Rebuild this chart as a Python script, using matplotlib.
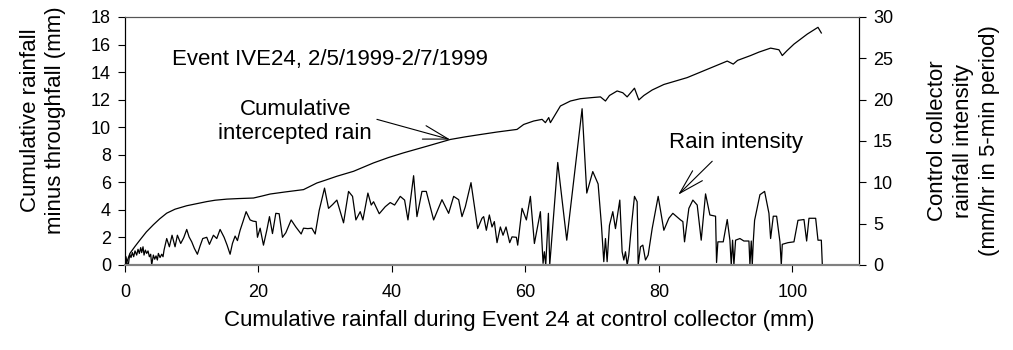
import numpy as np
import matplotlib
matplotlib.use("Agg")
import matplotlib.pyplot as plt

plt.rcParams['font.family'] = ['Liberation Sans', 'DejaVu Sans']

# cumulative intercepted rain (left axis, mm) vs cumulative rainfall (mm)
cum_x = [0, 0.15, 0.75, 1.5, 2.25, 3.2, 4.25, 5.2, 6.25, 7.5, 9.25, 11.25, 12.25, 13.5,
         15.25, 17.0, 19.25, 20.5, 21.75, 24.0, 26.75, 28.75, 30.0, 31.75, 34.25, 37.25,
         39.5, 41.75, 45.25, 48.75, 51.0, 53.0, 55.75, 58.75, 59.75, 61.25, 62.5, 63.0,
         63.5, 63.75, 65.25, 66.75, 68.25, 70.0, 71.25, 72.0, 72.6, 73.75, 74.6, 75.25,
         76.35, 77.0, 77.75, 79.0, 80.75, 82.5, 84.25, 86.0, 87.75, 90.25, 91.15, 91.8,
         93.75, 95.0, 96.75, 98.0, 98.5, 99.2, 100.25, 102.25, 103.85, 104.35]
cum_y = [0, 0.05, 0.85, 1.35, 1.82, 2.4, 2.92, 3.35, 3.76, 4.05, 4.3, 4.5, 4.6, 4.7,
         4.78, 4.82, 4.86, 5.0, 5.15, 5.3, 5.47, 5.95, 6.15, 6.44, 6.8, 7.41,
         7.8, 8.14, 8.62, 9.11, 9.3, 9.45, 9.65, 9.84, 10.2, 10.45, 10.57, 10.33,
         10.7, 10.33, 11.54, 11.9, 12.07, 12.15, 12.2, 11.9, 12.3, 12.63, 12.5, 12.2,
         12.83, 11.98, 12.3, 12.7, 13.1, 13.35, 13.6, 13.95, 14.3, 14.8, 14.58, 14.85,
         15.2, 15.45, 15.74, 15.62, 15.2, 15.55, 16.03, 16.76, 17.25, 16.84]

# rain intensity (right axis, mm/hr in 5-min period)
int_x = [0.0, 0.15, 0.3, 0.5, 0.7, 0.9, 1.1, 1.3, 1.5, 1.75, 1.95, 2.15, 2.35, 2.5, 2.7,
         2.85, 3.05, 3.25, 3.45, 3.65, 3.85, 4.0, 4.25, 4.45, 4.65, 4.85, 5.0, 5.25, 5.5,
         5.7, 5.85, 6.25, 6.65, 7.05, 7.5, 7.85, 8.35, 8.8, 9.25, 9.6, 10.0, 10.4, 10.85,
         11.25, 11.65, 12.25, 12.65, 13.25, 13.75, 14.25, 14.85, 15.3, 15.75, 16.1, 16.5,
         16.85, 17.25, 17.7, 18.15, 18.75, 19.2, 19.65, 19.85, 20.25, 20.75, 21.25, 21.65,
         22.1, 22.6, 23.1, 23.6, 24.1, 24.9, 25.6, 26.4, 26.75, 27.4, 28.0, 28.5, 29.1,
         29.9, 30.5, 31.1, 31.75, 32.75, 33.5, 34.1, 34.6, 35.25, 35.65, 36.4, 36.9, 37.25,
         38.1, 39.0, 39.75, 40.4, 41.25, 41.9, 42.4, 43.25, 43.75, 44.5, 45.15, 46.25,
         47.5, 48.5, 49.25, 50.0, 50.5, 51.0, 51.85, 52.85, 53.5, 53.75, 54.15, 54.6, 55.0,
         55.35, 55.75, 56.25, 56.65, 57.1, 57.65, 58.0, 58.65, 58.85, 59.5, 60.15, 60.75,
         61.35, 62.25, 62.65, 62.85, 63.05, 63.45, 63.65, 64.85, 66.2, 68.5, 69.2, 70.1,
         70.9, 71.4, 71.75, 72.0, 72.25, 72.6, 73.1, 73.5, 74.15, 74.5, 74.75, 75.0, 75.25,
         75.5, 75.9, 76.35, 76.75, 76.9, 77.25, 77.6, 78.0, 78.4, 79.0, 79.9, 80.75, 81.5,
         82.1, 83.25, 83.6, 83.85, 84.5, 85.1, 85.75, 86.35, 87.0, 87.65, 88.5, 88.65,
         88.85, 89.65, 90.25, 90.65, 90.85, 91.05, 91.25, 91.5, 92.15, 92.75, 93.5, 93.65,
         93.85, 94.0, 94.15, 94.35, 95.15, 95.85, 96.5, 96.75, 97.15, 97.65, 98.15, 98.35,
         98.5, 99.35, 100.25, 100.85, 101.75, 102.15, 102.5, 103.5, 103.85, 104.35, 104.5]
int_y = [0.0, 1.0, 0.2, 0.0, 1.3, 0.9, 1.5, 1.0, 1.7, 1.2, 1.9, 1.4, 2.1, 1.5, 2.2,
         1.2, 1.8, 1.4, 1.7, 1.0, 1.3, 0.0, 1.2, 0.7, 1.1, 0.6, 1.4, 0.9, 1.3,
         1.0, 1.8, 3.2, 2.2, 3.6, 2.2, 3.6, 2.6, 3.3, 4.3, 3.4, 2.8, 2.0, 1.3,
         2.3, 3.2, 3.35, 2.5, 3.6, 3.2, 4.3, 3.35, 2.4, 1.3, 2.6, 3.5,
         2.95, 4.2, 5.3, 6.45, 5.45, 5.3, 5.25, 3.35, 4.45, 2.4, 4.2, 5.85,
         3.8, 6.25, 6.2, 3.35, 3.9, 5.45, 4.6, 3.75, 4.45, 4.4, 4.45, 3.75, 6.6,
         9.3, 6.85, 7.3, 7.85, 5.1, 8.9, 8.3, 5.45, 6.45, 5.45, 8.7, 7.25, 7.65,
         6.2, 7.05, 7.55, 7.25, 8.3, 7.85, 5.45, 10.8, 5.85, 8.9, 8.9, 5.45,
         7.9, 6.25, 8.3, 7.9, 5.85, 7.05, 9.96, 4.4, 5.65, 5.85, 4.2, 6.05, 4.6,
         5.25, 2.7, 4.6, 3.6, 4.6, 2.7, 3.4, 3.35, 2.4, 6.85, 5.45, 8.3,
         2.6, 6.45, 0.2, 1.6, 0.0, 6.25, 0.0, 12.4, 3.0, 18.9, 8.7, 11.3,
         9.8, 4.8, 0.4, 3.2, 0.4, 4.8, 6.45, 4.4, 7.85, 1.6, 0.6, 1.6, 0.0,
         1.2, 4.8, 8.3, 7.65, 0.0, 2.2, 2.4, 0.6, 1.2, 4.4, 8.3, 4.2, 5.65,
         6.25, 5.45, 5.25, 2.8, 6.85, 7.85, 7.25, 3.0, 8.6, 6.05, 5.9, 0.3,
         2.8, 2.8, 5.5, 3.0, 0.0, 3.0, 0.0, 3.0, 3.2, 2.9, 2.9, 0.0,
         2.9, 0.0, 2.8, 5.4, 8.5, 8.9, 6.25, 3.2, 5.9, 5.9, 2.8, 0.0,
         2.5, 2.7, 2.8, 5.4, 5.5, 2.9, 5.65, 5.65, 3.0, 3.0, 0.0]

fig = plt.figure(figsize=(10.13, 3.5), dpi=100)
ax = fig.add_axes([0.1234, 0.2429, 0.7246, 0.7086])
ax2 = ax.twinx()

ax.plot(cum_x, cum_y, color='black', lw=0.9)
ax2.plot(int_x, int_y, color='black', lw=0.9)

ax.set_xlim(0, 110)
ax.set_ylim(0, 18)
ax2.set_ylim(0, 30)
ax.set_xticks(np.arange(0, 101, 20))
ax.set_yticks(np.arange(0, 19, 2))
ax2.set_yticks(np.arange(0, 31, 5))

for a in (ax, ax2):
    a.tick_params(direction='out', length=5, width=0.8, labelsize=13, pad=5)
    a.spines['top'].set_color('#555555')
    a.spines['bottom'].set_color('#808080')
    a.spines['bottom'].set_linewidth(1.5)
ax.tick_params(axis='x', pad=9)

ax.set_xlabel('Cumulative rainfall during Event 24 at control collector (mm)',
              fontsize=16, labelpad=6)
ax.xaxis.label.set_x(0.537)
ax.set_ylabel('Cumulative rainfall\nminus throughfall (mm)', fontsize=16,
              linespacing=1.25)
ax.yaxis.set_label_coords(-0.080, 0.585)
ax2.set_ylabel('Control collector\nrainfall intensity\n(mm/hr in 5-min period)',
               fontsize=16, linespacing=1.3)
ax2.yaxis.set_label_coords(1.093, 0.5)

ax.text(7.05, 14.94, 'Event IVE24, 2/5/1999-2/7/1999', fontsize=16,
        ha='left', va='center')
ax.text(25.5, 10.4, 'Cumulative\nintercepted rain', fontsize=16,
        ha='center', va='center', linespacing=1.2)
ax.text(91.5, 8.9, 'Rain intensity', fontsize=16, ha='center', va='center')

arrow = dict(arrowstyle='->,head_length=0.9,head_width=0.25', lw=0.8,
             color='black', shrinkA=0, shrinkB=0, mutation_scale=20)
ax.annotate('', xy=(48.75, 9.1), xytext=(37.75, 10.57), arrowprops=arrow)
ax.annotate('', xy=(82.9, 5.1), xytext=(88.0, 7.53), arrowprops=arrow)

fig.savefig('out.png', dpi=100)
